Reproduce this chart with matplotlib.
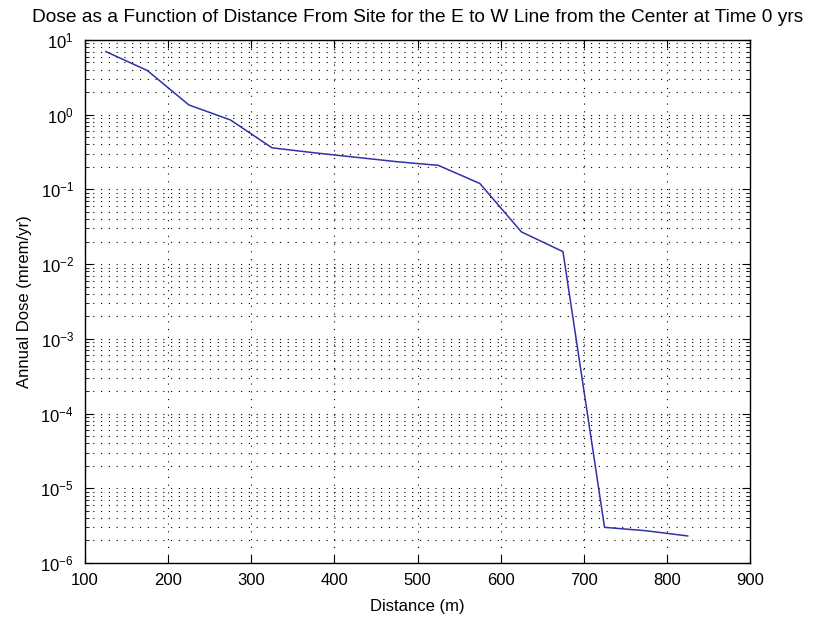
import matplotlib
matplotlib.use("Agg")
import matplotlib.pyplot as plt
from matplotlib.ticker import FixedLocator, NullFormatter, LogFormatterMathtext

plt.rcParams['font.family'] = ['Liberation Sans', 'DejaVu Sans']
plt.rcParams['mathtext.default'] = 'regular'

distance = [125, 175, 225, 275, 325, 375, 425, 475, 525, 575, 625, 675, 725, 775, 825]
dose = [7.0, 3.9, 1.35, 0.85, 0.36, 0.31, 0.27, 0.235, 0.21, 0.12, 0.027, 0.0147, 3.0e-6, 2.7e-6, 2.3e-6]
xticks = [100, 200, 300, 400, 500, 600, 700, 800, 900]
yticks = [1e-6, 1e-5, 1e-4, 1e-3, 1e-2, 1e-1, 1e0, 1e1]

fig = plt.figure(figsize=(8.23, 6.22), dpi=100)
ax = fig.add_axes([0.1033, 0.0949, 0.808, 0.8408])
ax.plot(distance, dose, color='#3030a8', lw=1.1)
ax.set_yscale('log')
ax.set_xlim(100, 900)
ax.set_ylim(1e-6, 1e1)
ax.xaxis.set_major_locator(FixedLocator(xticks))
ax.yaxis.set_major_locator(FixedLocator(yticks))
ax.yaxis.set_major_formatter(LogFormatterMathtext())
minor = [m * d for d in yticks[:-1] for m in range(2, 10)]
ax.yaxis.set_minor_locator(FixedLocator(minor))
ax.yaxis.set_minor_formatter(NullFormatter())

grid_kw = dict(color='black', linestyle=(0, (1, 6)), linewidth=0.8)
ax.grid(True, which='major', axis='both', **grid_kw)
ax.grid(True, which='minor', axis='y', **grid_kw)

ax.tick_params(which='both', direction='in', top=True, right=True, labelsize=12)
ax.tick_params(axis='x', which='major', pad=7)
ax.tick_params(axis='y', which='major', pad=8)
ax.tick_params(which='major', length=6)
ax.tick_params(which='minor', length=3)
for s in ax.spines.values():
    s.set_linewidth(1.0)

ax.set_title('Dose as a Function of Distance From Site for the E to W Line from the Center at Time 0 yrs',
             fontsize=13.8, pad=13)
ax.set_xlabel('Distance (m)', fontsize=12, labelpad=8)
ax.set_ylabel('Annual Dose (mrem/yr)', fontsize=12, labelpad=6)

fig.savefig('out.png', dpi=100)
